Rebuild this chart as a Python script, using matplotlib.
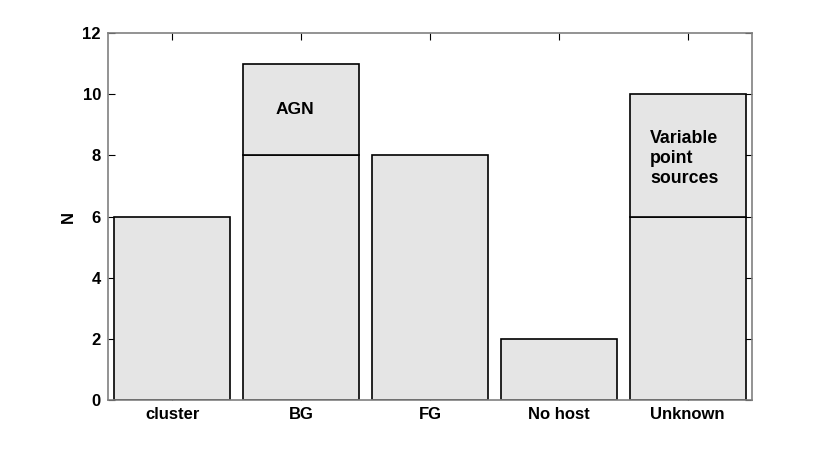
import matplotlib
matplotlib.use("Agg")
import matplotlib.pyplot as plt

categories = ["cluster", "BG", "FG", "No host", "Unknown"]
base_counts = [6, 8, 8, 2, 6]
extra_counts = [0, 3, 0, 0, 4]
yticks = [0, 2, 4, 6, 8, 10, 12]

plt.rcParams['font.family'] = ['Liberation Sans', 'DejaVu Sans']
plt.rcParams['font.weight'] = 'bold'

fig = plt.figure(figsize=(8.3, 4.49), dpi=100)
ax = fig.add_axes([0.130, 0.109, 0.776, 0.8175])

x = list(range(len(categories)))
fill = '#e5e5e5'
ax.bar(x, base_counts, width=0.9, color=fill, edgecolor='black', linewidth=1.2, zorder=2)
ax.bar([xi for xi, e in zip(x, extra_counts) if e > 0],
       [e for e in extra_counts if e > 0],
       bottom=[b for b, e in zip(base_counts, extra_counts) if e > 0],
       width=0.9, color=fill, edgecolor='black', linewidth=1.2, zorder=2)

ax.text(0.95, 9.5, "AGN", ha='center', va='center', fontsize=12.5, fontweight='bold')
ax.text(3.71, 7.9, "Variable\npoint\nsources", ha='left', va='center', fontsize=12.8,
        fontweight='bold', linespacing=1.2)

ax.set_xlim(-0.5, 4.5)
ax.set_ylim(0, 12)
ax.set_xticks(x)
ax.set_xticklabels(categories, fontsize=12, fontweight='bold')
ax.set_yticks(yticks)
ax.set_yticklabels([str(v) for v in yticks], fontsize=12, fontweight='bold')
ax.set_ylabel("N", fontsize=12, fontweight='bold', labelpad=5)
ax.tick_params(direction='in', length=5, width=0.8, top=True, right=True, pad=5)
for s in ax.spines.values():
    s.set_color('#808080')
    s.set_linewidth(1.2)

fig.savefig("out.png", dpi=100)
